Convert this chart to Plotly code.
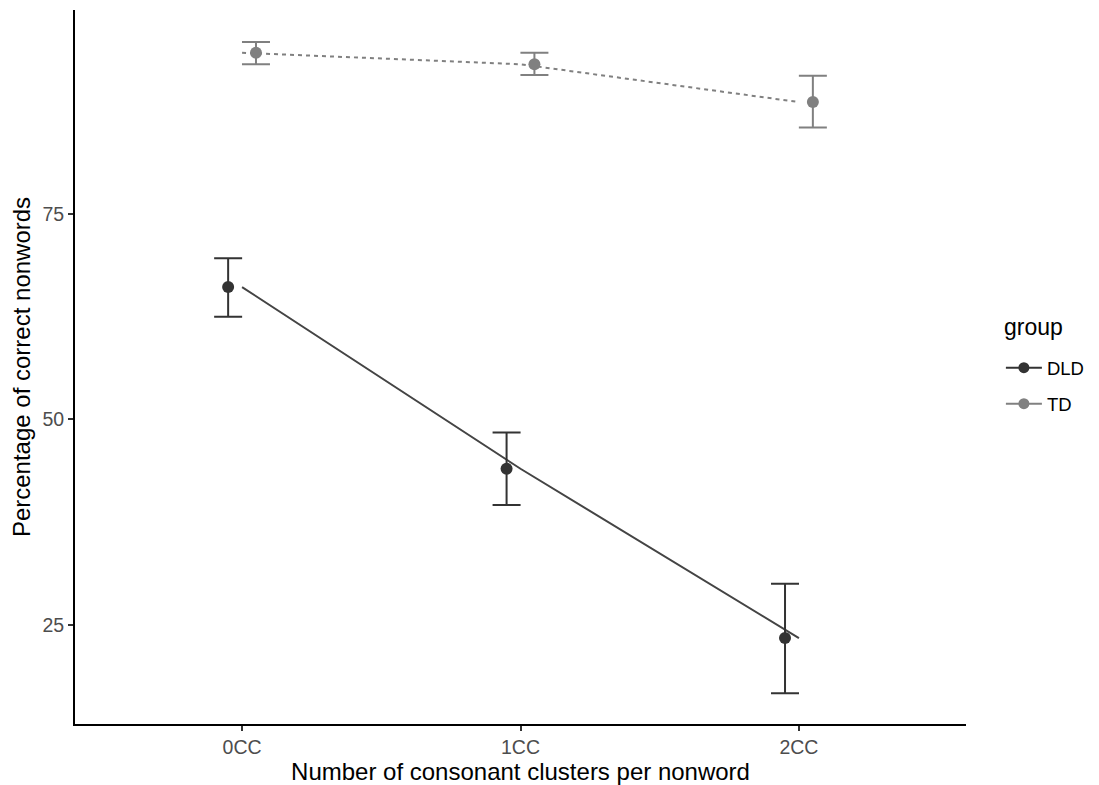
import plotly.graph_objects as go

categories = ["0CC", "1CC", "2CC"]
dld_mean = [66.1, 44.0, 23.4]
dld_upper = [69.6, 48.4, 30.0]
dld_lower = [62.5, 39.6, 16.7]
td_mean = [94.6, 93.2, 88.6]
td_upper = [95.9, 94.6, 91.8]
td_lower = [93.2, 91.9, 85.5]
y_ticks = [25, 50, 75]

DLD_COL = "#333333"
TD_COL = "#808080"
FONT = "Liberation Sans, Arial, sans-serif"

pos = [i + 1 for i in range(len(categories))]
dodge = 0.05

fig = go.Figure()

# lines (not dodged)
fig.add_trace(go.Scatter(x=pos, y=dld_mean, mode="lines",
                         line=dict(color="#444444", width=2), showlegend=False, hoverinfo="skip"))
fig.add_trace(go.Scatter(x=pos, y=td_mean, mode="lines",
                         line=dict(color=TD_COL, width=2, dash="4px,4px"), showlegend=False, hoverinfo="skip"))

# points with error bars (dodged)
fig.add_trace(go.Scatter(
    x=[p - dodge for p in pos], y=dld_mean, mode="markers",
    marker=dict(color=DLD_COL, size=12),
    error_y=dict(type="data", symmetric=False,
                 array=[u - m for u, m in zip(dld_upper, dld_mean)],
                 arrayminus=[m - l for m, l in zip(dld_mean, dld_lower)],
                 color=DLD_COL, thickness=2, width=14),
    showlegend=False))
fig.add_trace(go.Scatter(
    x=[p + dodge for p in pos], y=td_mean, mode="markers",
    marker=dict(color=TD_COL, size=12),
    error_y=dict(type="data", symmetric=False,
                 array=[u - m for u, m in zip(td_upper, td_mean)],
                 arrayminus=[m - l for m, l in zip(td_mean, td_lower)],
                 color=TD_COL, thickness=2, width=14),
    showlegend=False))

# legend entries
fig.add_trace(go.Scatter(x=[None], y=[None], mode="lines+markers", name="DLD", legendgroup="a",
                         line=dict(color=DLD_COL, width=2), marker=dict(color=DLD_COL, size=11)))
fig.add_trace(go.Scatter(x=[None], y=[None], mode="lines+markers", name="TD", legendgroup="b",
                         line=dict(color=TD_COL, width=2), marker=dict(color=TD_COL, size=11)))

fig.add_annotation(text="group", xref="paper", yref="paper", x=1.0404, y=0.556,
                   xanchor="left", yanchor="middle", showarrow=False,
                   font=dict(size=23, color="black", family=FONT))

fig.update_layout(
    width=1099, height=785,
    margin=dict(l=75, r=132, t=10, b=61),
    plot_bgcolor="white", paper_bgcolor="white",
    font=dict(family=FONT, color="black"),
    legend=dict(font=dict(size=18.5, color="black"),
                x=1.038, xanchor="left", y=0.525, yanchor="top",
                itemwidth=36, traceorder="grouped", tracegroupgap=9),
    xaxis=dict(range=[0.4, 3.6], tickmode="array", tickvals=pos, ticktext=categories,
               showgrid=False, zeroline=False, showline=True, linecolor="black", linewidth=2,
               ticks="outside", ticklen=5, tickwidth=1.5, tickcolor="#333333",
               tickfont=dict(size=19.5, color="#4d4d4d"), automargin=False,
               title=dict(text="Number of consonant clusters per nonword", font=dict(size=24, color="black"), standoff=3)),
    yaxis=dict(range=[12.95, 99.8], tickmode="array", tickvals=y_ticks,
               showgrid=False, zeroline=False, showline=True, linecolor="black", linewidth=2,
               ticks="outside", ticklen=5, tickwidth=1.5, tickcolor="#333333",
               tickfont=dict(size=19.5, color="#4d4d4d"), automargin=False,
               title=dict(text="Percentage of correct nonwords", font=dict(size=24, color="black"), standoff=5)),
)

fig.write_html("out.html")
